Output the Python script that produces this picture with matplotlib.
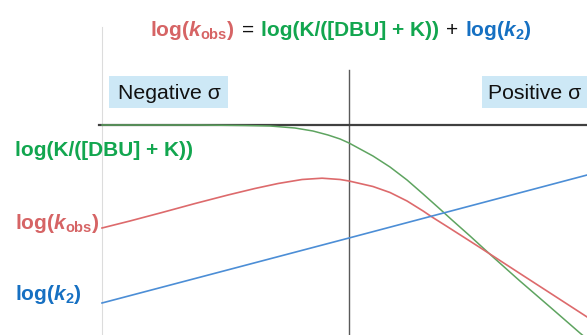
import matplotlib
matplotlib.use('Agg')
import matplotlib.pyplot as plt
from matplotlib.patches import Rectangle

plt.rcParams['font.family'] = ['Liberation Sans', 'DejaVu Sans']
plt.rcParams['mathtext.fontset'] = 'custom'
plt.rcParams['mathtext.rm'] = 'Liberation Sans'
plt.rcParams['mathtext.it'] = 'Liberation Sans:italic'
plt.rcParams['mathtext.bf'] = 'Liberation Sans:bold'
try:
    plt.rcParams['mathtext.bfit'] = 'Liberation Sans:italic:bold'
except KeyError:
    pass

# ---- data: x = substituent constant sigma, y = log value (arbitrary units) ----
sigma_green = [-1.000, -0.603, -0.421, -0.320, -0.219, -0.146, -0.085, -0.036, 0.000,
               0.097, 0.166, 0.235, 0.300, 0.368, 0.417, 0.490, 0.583, 0.692, 0.814,
               0.935, 0.964]
log_green = [0.00, 0.00, -0.005, -0.01, -0.03, -0.06, -0.10, -0.14, -0.18,
             -0.31, -0.42, -0.55, -0.69, -0.84, -0.95, -1.11, -1.32, -1.56, -1.82,
             -2.08, -2.14]

sigma_red = [-1.000, -0.887, -0.757, -0.623, -0.490, -0.381, -0.287, -0.190, -0.109,
             -0.036, 0.000, 0.097, 0.166, 0.235, 0.300, 0.336, 0.397, 0.470, 0.530,
             0.583, 0.692, 0.814, 0.964]
log_red = [-1.03, -0.96, -0.875, -0.785, -0.70, -0.635, -0.585, -0.545, -0.532,
           -0.545, -0.56, -0.615, -0.675, -0.76, -0.86, -0.92, -1.015, -1.13, -1.225,
           -1.31, -1.485, -1.68, -1.92]

sigma_blue = [-1.000, 0.000, 0.964]
log_blue = [-1.78, -1.13, -0.50]

title_parts = [r"log($\mathbfit{k}_{\mathbf{obs}}$)", "=", "log(K/([DBU] + K))", "+",
               r"log($\mathbfit{k}_{\mathbf{2}}$)"]
label_green = "log(K/([DBU] + K))"
label_red = r"log($\mathbfit{k}_{\mathbf{obs}}$)"
label_blue = r"log($\mathbfit{k}_{\mathbf{2}}$)"
region_labels = ["Negative σ", "Positive σ"]

RED_T, GREEN_T, BLUE_T = '#d66465', '#12a64f', '#1670c2'
RED_L, GREEN_L, BLUE_L = '#dd6a6c', '#5ea460', '#4c8ed6'

W, H = 587, 335
fig = plt.figure(figsize=(W / 100, H / 100), dpi=100)
ax = fig.add_axes([0, 0, 1, 1])
ax.set_xlim(-349 / 247, 238 / 247)
ax.set_ylim(-2.10, 1.25)
ax.axis('off')


def fx(px):
    return px / W


def fy(py):
    return 1 - py / H


# frame lines
ax.plot([-1, -1], [0.98, -2.2], color='#dcdcdc', lw=0.8, zorder=1)
ax.plot([0, 0], [0.55, -2.2], color='#5a5a5a', lw=1.0, zorder=2)
ax.plot([-1.012, 1.0], [0, 0], color='#404040', lw=1.6, zorder=2)

# curves
ax.plot(sigma_green, log_green, color=GREEN_L, lw=1.1, zorder=3)
ax.plot(sigma_red, log_red, color=RED_L, lw=1.2, zorder=3)
ax.plot(sigma_blue, log_blue, color=BLUE_L, lw=1.2, zorder=3)

# region boxes
for (x0, x1), txt, tx in zip([(109, 228), (482, 590)], region_labels, [118, 488]):
    fig.patches.append(Rectangle((fx(x0), fy(108)), (x1 - x0) / W, 32 / H,
                                 transform=fig.transFigure, facecolor='#cde8f6',
                                 edgecolor='none', zorder=0))
    fig.text(fx(tx), fy(99), txt, fontsize=15.3, color='#111111', ha='left',
             va='baseline')

FS = 15
# left labels
fig.text(fx(15), fy(156), label_green, fontsize=FS, fontweight='bold', color=GREEN_T,
         ha='left', va='baseline')
fig.text(fx(15), fy(229), label_red, fontsize=FS, fontweight='bold', color=RED_T,
         ha='left', va='baseline')
fig.text(fx(15), fy(300), label_blue, fontsize=FS, fontweight='bold', color=BLUE_T,
         ha='left', va='baseline')

# multi-coloured title
renderer = fig.canvas.get_renderer()
colors = [RED_T, '#111111', GREEN_T, '#111111', BLUE_T]
weights = ['bold', 'normal', 'bold', 'normal', 'bold']
x = 150
for s, c, w in zip(title_parts, colors, weights):
    t = fig.text(fx(x), fy(36), s, fontsize=FS, fontweight=w, color=c,
                 ha='left', va='baseline')
    bb = t.get_window_extent(renderer)
    x = bb.x1 + 7

fig.savefig('out.png', dpi=100)
